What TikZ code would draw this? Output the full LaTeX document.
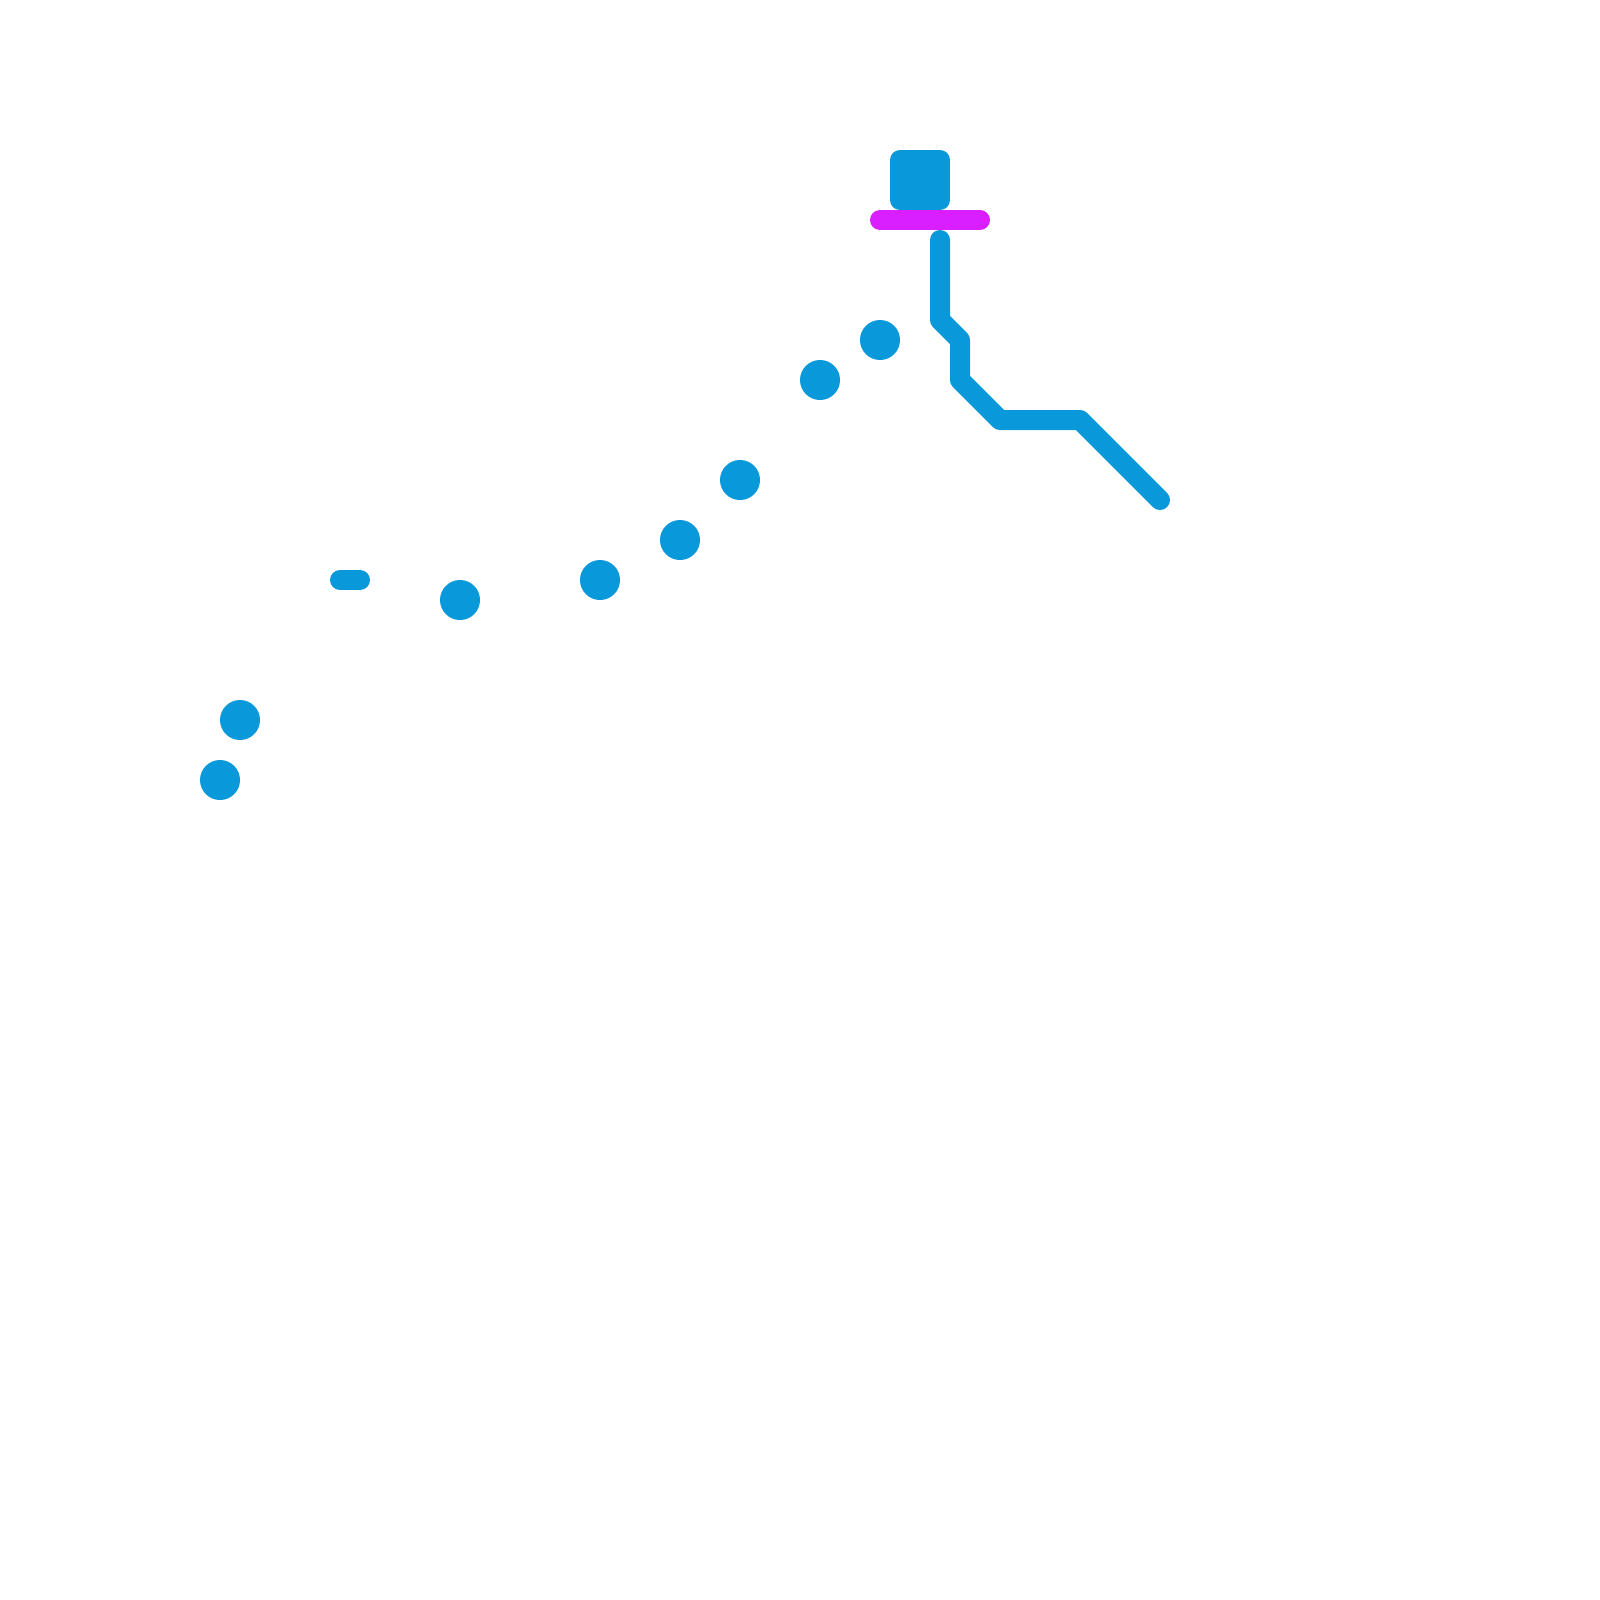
\documentclass[tikz,border=0pt]{standalone}
\definecolor{blueink}{HTML}{0998D9}
\definecolor{magentaink}{HTML}{D91EFF}
\tikzset{
  stroke/.style={line width=20pt,line cap=round,line join=round,draw=#1},
  stroke/.default=blueink,
  dot/.style={fill=blueink,draw=none}
}
\begin{document}
\begin{tikzpicture}[x=1pt,y=-1pt]
\useasboundingbox[fill=white] (0,0) rectangle (1600,1600);
% square
\filldraw[stroke,fill=blueink] (900,160) rectangle (940,200);
% magenta bar
\draw[stroke=magentaink] (880,220) -- (980,220);
% polyline
\draw[stroke] (940,240) -- (940,320) -- (960,340) -- (960,380) -- (1000,420) -- (1080,420) -- (1160,500);
% short pill
\draw[stroke] (340,580) -- (360,580);
% dots
\foreach \p in {(220,780),(240,720),(460,600),(600,580),(680,540),(740,480),(820,380),(880,340)}
  \fill[dot] \p circle[radius=20];
\end{tikzpicture}
\end{document}
